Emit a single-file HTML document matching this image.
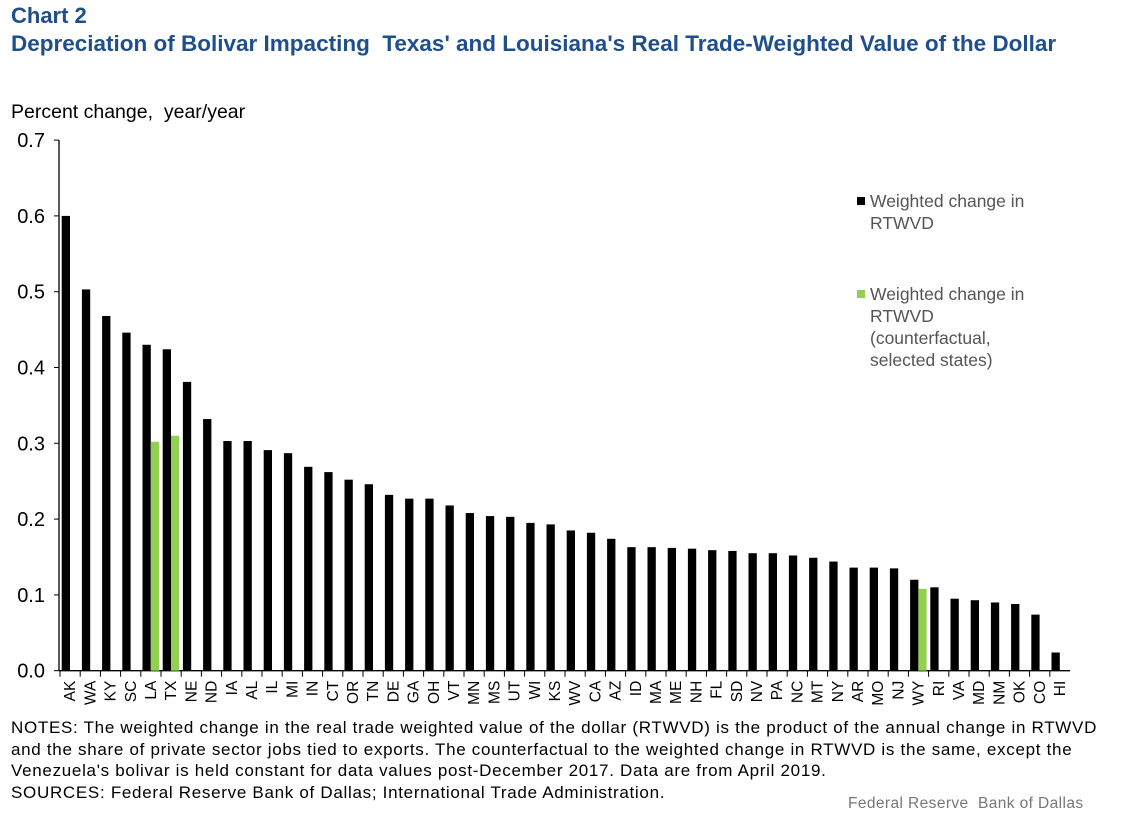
<!DOCTYPE html>
<html><head><meta charset="utf-8"><style>
body{margin:0;background:#fff;font-family:"Liberation Sans",Arial,sans-serif;}
#wrap{position:relative;width:1137px;height:825px;overflow:hidden;}
.t{position:absolute;white-space:nowrap;}
</style></head><body>
<div id="wrap">
<div class="t" style="left:11px;top:3px;font-size:22px;font-weight:bold;color:#1f4e8c;">Chart 2</div>
<div class="t" style="left:11px;top:31px;font-size:22.5px;font-weight:bold;color:#1f4e8c;">Depreciation of Bolivar Impacting &nbsp;Texas' and Louisiana's Real Trade-Weighted Value of the Dollar</div>
<div class="t" style="left:11px;top:101px;font-size:19.5px;color:#000;">Percent change, &nbsp;year/year</div>
<svg id="chart" width="1137" height="825" style="position:absolute;left:0;top:0;"></svg>
<div class="t" style="left:11px;top:717px;font-size:17px;letter-spacing:0.7px;line-height:21.5px;color:#000;">NOTES: The weighted change in the real trade weighted value of the dollar (RTWVD) is the product of the annual change in RTWVD<br>and the share of private sector jobs tied to exports. The counterfactual to the weighted change in RTWVD is the same, except the<br>Venezuela's bolivar is held constant for data values post-December 2017. Data are from April 2019.<br>SOURCES: Federal Reserve Bank of Dallas; International Trade Administration.</div>
<div class="t" style="left:848px;top:795px;font-size:15.5px;letter-spacing:0.4px;color:#777;">Federal Reserve &nbsp;Bank of Dallas</div>
</div>
<script>
const categories=["AK","WA","KY","SC","LA","TX","NE","ND","IA","AL","IL","MI","IN","CT","OR","TN","DE","GA","OH","VT","MN","MS","UT","WI","KS","WV","CA","AZ","ID","MA","ME","NH","FL","SD","NV","PA","NC","MT","NY","AR","MO","NJ","WY","RI","VA","MD","NM","OK","CO","HI"];
const weighted=[0.60,0.503,0.468,0.446,0.43,0.424,0.381,0.332,0.303,0.303,0.291,0.287,0.269,0.262,0.252,0.246,0.232,0.227,0.227,0.218,0.208,0.204,0.203,0.195,0.193,0.185,0.182,0.174,0.163,0.163,0.162,0.161,0.159,0.158,0.155,0.155,0.152,0.149,0.144,0.136,0.136,0.135,0.12,0.11,0.095,0.093,0.09,0.088,0.074,0.024];
const counterfactual=[null,null,null,null,0.302,0.31,null,null,null,null,null,null,null,null,null,null,null,null,null,null,null,null,null,null,null,null,null,null,null,null,null,null,null,null,null,null,null,null,null,null,null,null,0.108,null,null,null,null,null,null,null];
const yTicks=["0.0","0.1","0.2","0.3","0.4","0.5","0.6","0.7"];
const svg=document.getElementById('chart');const NS='http://www.w3.org/2000/svg';
const x0=60,bw=20.2,y0=670.7,ppu=758;
const yS=v=>y0-v*ppu;const xS=i=>x0+i*bw;
function mk(t,a){const e=document.createElementNS(NS,t);for(const k in a)e.setAttribute(k,a[k]);svg.appendChild(e);return e;}
yTicks.forEach((t,i)=>{const v=parseFloat(t);const y=yS(v);
const l=mk('line',{x1:54,x2:59,y1:y,y2:y,stroke:'#000','stroke-width':1});


const tx=mk('text',{x:45,y:y+7,'text-anchor':'end','font-size':20,'font-family':'Liberation Sans, Arial, sans-serif'});tx.textContent=t;

});
const ax=mk('line',{x1:59,x2:59,y1:yS(0.7),y2:y0,stroke:'#000','stroke-width':1.3});


const xa=mk('line',{x1:59,x2:xS(categories.length),y1:y0,y2:y0,stroke:'#000','stroke-width':1.3});


categories.forEach((c,i)=>{
const tk=mk('line',{x1:xS(i),x2:xS(i),y1:y0,y2:y0+6,stroke:'#000','stroke-width':1});


const b=mk('rect',{x:xS(i)+1.7,y:yS(weighted[i]),width:8.3,height:weighted[i]*ppu,fill:'#000'});


if(counterfactual[i]!=null){const g=mk('rect',{x:xS(i)+10,y:yS(counterfactual[i]),width:8.2,height:counterfactual[i]*ppu,fill:'#92d050'});

}
const cx=xS(i)+bw/2+1,cy=y0+10;
const tx=mk('text',{x:cx,y:cy,'text-anchor':'end','font-size':15.5,'font-family':'Liberation Sans, Arial, sans-serif',transform:`rotate(-90 ${cx} ${cy})`,'dominant-baseline':'middle'});tx.textContent=c;

});
function legend(y,color,lines,name){const r=mk('rect',{x:857,y:y-5,width:8,height:8,fill:color});


lines.forEach((s,j)=>{const t=mk('text',{x:870,y:y+j*22+5,'font-size':17.5,fill:'#555','font-family':'Liberation Sans, Arial, sans-serif'});t.textContent=s;

});}
legend(202,'#000',['Weighted change in','RTWVD'],'legend-weighted');
legend(295,'#92d050',['Weighted change in','RTWVD','(counterfactual,','selected states)'],'legend-counterfactual');
</script>
</body></html>
